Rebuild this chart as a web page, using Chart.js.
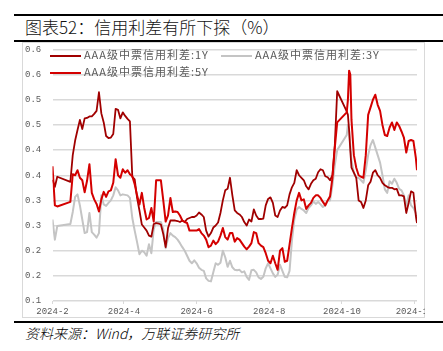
<!DOCTYPE html>
<html>
<head>
<meta charset="utf-8">
<script src="https://cdn.jsdelivr.net/npm/chart.js@4.4.1/dist/chart.umd.min.js"></script>
<style>
    html, body { margin: 0; padding: 0; background: #fff; }
    body { width: 443px; height: 351px; position: relative; overflow: hidden; font-family: "Noto Sans CJK SC", sans-serif; }
    .rule { position: absolute; left: 14px; right: 0; height: 2px; background: #000; }
    #title { position: absolute; left: 25px; top: 16px; font-size: 17px; line-height: 22px; font-weight: 300; color: #111; white-space: nowrap; }
    #frame { position: absolute; left: 22px; top: 42px; width: 403px; height: 276px; box-sizing: border-box; border: 1px solid #d9d9d9; }
    #chart { position: absolute; left: 22px; top: 42px; }
    #source { position: absolute; left: 25px; top: 324px; font-size: 14px; line-height: 18px; font-style: italic; font-weight: 300; color: #000; white-space: nowrap; }
    .lg { position: absolute; font-size: 11px; line-height: 14px; letter-spacing: 1px; color: #595959; white-space: nowrap; }
    .lg i { display: inline-block; width: 31px; height: 2px; vertical-align: middle; margin-right: 3px; }
</style>
</head>
<body>
<div class="rule" style="top:14px"></div>
<div id="title">图表52：信用利差有所下探（%）</div>
<div class="rule" style="top:40px"></div>
<div id="frame"></div>
<canvas id="chart" width="403" height="276"></canvas>
<div id="legend"></div>
<div class="rule" style="top:321px"></div>
<div id="source">资料来源：Wind，万联证券研究所</div>

<script>
// 2024 dates (MM-DD), values in %
const dates = [
    '02-01','02-03','02-05','02-16','02-18','02-20','02-22','02-24','02-26','02-28',
    '03-01','03-03','03-05','03-07','03-09','03-11','03-13','03-15','03-17','03-19',
    '03-21','03-23','03-25','03-27','03-29','03-31','04-02','04-04','04-06','04-08',
    '04-10','04-12','04-14','04-16','04-18','04-20','04-22','04-24','04-26','04-28',
    '04-30','05-02','05-04','05-06','05-08','05-10','05-12','05-14','05-16','05-18',
    '05-20','05-22','05-24','05-26','05-28','05-30','06-01','06-03','06-05','06-07',
    '06-09','06-11','06-13','06-15','06-17','06-19','06-21','06-23','06-25','06-27',
    '06-29','07-01','07-03','07-05','07-07','07-09','07-11','07-13','07-15','07-17',
    '07-19','07-21','07-23','07-25','07-27','07-29','07-31','08-02','08-04','08-06',
    '08-08','08-10','08-12','08-14','08-16','08-18','08-20','08-22','08-24','08-26',
    '08-28','08-30','09-01','09-03','09-05','09-07','09-09','09-11','09-13','09-15',
    '09-17','09-19','09-21','09-23','09-25','09-27','10-05','10-06','10-07','10-08',
    '10-09','10-11','10-13','10-15','10-17','10-19','10-21','10-23','10-25','10-27',
    '10-29','10-31','11-02','11-04','11-06','11-08','11-10','11-12','11-14','11-16',
    '11-18','11-20','11-22','11-24','11-26','11-28','11-30','12-02','12-03'
];

const spread1Y = [
    0.341,0.327,0.347,0.337,0.390,0.419,0.440,0.460,0.442,0.463,
    0.464,0.467,0.467,0.472,0.478,0.515,0.473,0.455,0.428,0.424,
    0.425,0.432,0.482,0.480,0.463,0.475,0.468,0.462,0.457,0.347,
    0.342,0.305,0.280,0.252,0.246,0.240,0.230,0.228,0.253,0.255,
    0.254,0.252,0.233,0.207,0.245,0.260,0.260,0.260,0.259,0.257,
    0.260,0.257,0.263,0.265,0.267,0.267,0.270,0.276,0.272,0.267,
    0.240,0.228,0.235,0.246,0.250,0.256,0.275,0.300,0.320,0.323,
    0.345,0.310,0.280,0.275,0.272,0.267,0.257,0.250,0.262,0.258,
    0.282,0.270,0.263,0.263,0.264,0.290,0.303,0.306,0.295,0.270,
    0.267,0.280,0.287,0.285,0.290,0.312,0.326,0.335,0.360,0.350,
    0.345,0.340,0.328,0.322,0.333,0.340,0.343,0.356,0.362,0.360,
    0.348,0.346,0.340,0.350,0.410,0.517,0.477,0.470,0.440,0.400,
    0.365,0.355,0.345,0.300,0.297,0.285,0.300,0.330,0.337,0.355,
    0.360,0.350,0.345,0.335,0.330,0.327,0.325,0.325,0.322,0.323,
    0.310,0.310,0.308,0.275,0.295,0.318,0.315,0.270,0.255
];

const spread3Y = [
    0.262,0.222,0.249,0.253,0.277,0.307,0.312,0.290,0.262,0.235,
    0.237,0.275,0.237,0.232,0.226,0.235,0.310,0.292,0.289,0.295,
    0.300,0.310,0.326,0.320,0.310,0.312,0.311,0.310,0.305,0.265,
    0.240,0.217,0.193,0.200,0.197,0.190,0.213,0.195,0.243,0.257,
    0.257,0.257,0.243,0.205,0.225,0.235,0.230,0.227,0.222,0.215,
    0.207,0.200,0.190,0.180,0.175,0.181,0.175,0.166,0.162,0.160,
    0.145,0.140,0.139,0.157,0.175,0.172,0.176,0.200,0.187,0.168,
    0.180,0.167,0.162,0.161,0.162,0.157,0.159,0.148,0.142,0.161,
    0.162,0.157,0.147,0.144,0.148,0.165,0.175,0.165,0.155,0.148,
    0.152,0.172,0.160,0.148,0.147,0.160,0.220,0.262,0.282,0.287,
    0.283,0.280,0.275,0.285,0.290,0.298,0.293,0.297,0.292,0.287,
    0.290,0.300,0.300,0.330,0.370,0.400,0.430,0.450,0.440,0.410,
    0.380,0.355,0.345,0.345,0.340,0.335,0.360,0.390,0.410,0.420,
    0.405,0.390,0.375,0.350,0.322,0.315,0.338,0.333,0.343,0.335,
    0.323,0.320,0.310,0.290,0.310,0.290,0.285,0.275,0.256
];

const spread5Y = [
    0.368,0.290,0.288,0.297,0.352,0.350,0.360,0.345,0.340,0.316,
    0.339,0.372,0.315,0.302,0.293,0.278,0.302,0.317,0.307,0.318,
    0.320,0.335,0.382,0.350,0.345,0.362,0.355,0.360,0.352,0.348,
    0.332,0.310,0.292,0.315,0.285,0.262,0.265,0.285,0.258,0.340,
    0.340,0.340,0.300,0.258,0.270,0.305,0.277,0.278,0.277,0.270,
    0.260,0.257,0.255,0.240,0.240,0.240,0.240,0.243,0.235,0.230,
    0.222,0.207,0.210,0.220,0.213,0.218,0.230,0.245,0.227,0.222,
    0.235,0.235,0.218,0.225,0.222,0.215,0.208,0.203,0.208,0.215,
    0.237,0.235,0.215,0.210,0.207,0.195,0.180,0.175,0.190,0.175,
    0.162,0.200,0.205,0.178,0.180,0.212,0.245,0.275,0.300,0.315,
    0.300,0.302,0.283,0.290,0.295,0.305,0.310,0.310,0.305,0.297,
    0.290,0.300,0.308,0.345,0.405,0.455,0.475,0.500,0.558,0.550,
    0.460,0.390,0.365,0.350,0.347,0.345,0.390,0.470,0.485,0.500,
    0.510,0.490,0.478,0.450,0.430,0.428,0.445,0.455,0.440,0.455,
    0.448,0.437,0.425,0.395,0.418,0.420,0.418,0.385,0.360
];

const seriesNames = ['AAA级中票信用利差:1Y', 'AAA级中票信用利差:3Y', 'AAA级中票信用利差:5Y'];
const seriesColors = ['#a00000', '#c4c4c4', '#d40000'];

const xTickDates = ['02-01', '04-01', '06-01', '08-01', '10-01', '12-01'];
const xTickLabels = ['2024-2', '2024-4', '2024-6', '2024-8', '2024-10', '2024-12'];
const yTickValues = [0.1, 0.15, 0.2, 0.25, 0.3, 0.35, 0.4, 0.45, 0.5, 0.55, 0.6];
const yTickLabels = ['0.1', '0.2', '0.2', '0.3', '0.3', '0.4', '0.4', '0.5', '0.5', '0.6', '0.6'];

function dayOfYear(md) {
    const [m, d] = md.split('-').map(Number);
    return (Date.UTC(2024, m - 1, d) - Date.UTC(2024, 0, 1)) / 86400000 + 1;
}

const xs = dates.map(dayOfYear);
const xTickDays = xTickDates.map(dayOfYear);
const toPoints = vals => vals.map((v, i) => ({ x: xs[i], y: v }));

const tickFont = { family: '"Liberation Mono", "DejaVu Sans Mono", monospace', size: 9 };

const chart = new Chart(document.getElementById('chart'), {
    type: 'line',
    data: {
        datasets: [
            { label: seriesNames[0], data: toPoints(spread1Y), borderColor: seriesColors[0], borderWidth: 1.8, order: 2 },
            { label: seriesNames[1], data: toPoints(spread3Y), borderColor: seriesColors[1], borderWidth: 2, order: 3 },
            { label: seriesNames[2], data: toPoints(spread5Y), borderColor: seriesColors[2], borderWidth: 2, order: 1 }
        ]
    },
    options: {
        responsive: false,
        animation: false,
        devicePixelRatio: 1,
        layout: { padding: { left: 3, right: 8, top: 7.5, bottom: 0 } },
        plugins: { legend: { display: false }, tooltip: { enabled: false } },
        elements: {
            point: { radius: 0 },
            line: { tension: 0, borderJoinStyle: 'round', fill: false }
        },
        scales: {
            x: {
                type: 'linear',
                min: 32,
                max: 338,
                afterBuildTicks: s => { s.ticks = xTickDays.map(v => ({ value: v })); },
                afterFit: s => { s.height = 17; s.paddingLeft = 0; s.paddingRight = 0; },
                grid: { drawOnChartArea: false, drawTicks: true, tickLength: 3, color: '#d9d9d9', lineWidth: 1 },
                border: { display: false },
                ticks: {
                    autoSkip: false,
                    maxRotation: 0,
                    padding: 2,
                    color: '#595959',
                    font: tickFont,
                    callback: v => xTickLabels[xTickDays.indexOf(v)]
                }
            },
            y: {
                min: 0.1,
                max: 0.6,
                afterBuildTicks: s => { s.ticks = yTickValues.map(v => ({ value: v })); },
                afterFit: s => { s.width = 27.5; s.paddingTop = 0; s.paddingBottom = 0; },
                grid: { color: '#d9d9d9', lineWidth: 1.5, drawTicks: false },
                border: { display: false },
                ticks: {
                    crossAlign: 'far',
                    color: '#595959',
                    font: tickFont,
                    callback: (v, i) => yTickLabels[i]
                }
            }
        }
    }
});

// legend as html, placed over the plot like the original
const legendSpots = [[50, 47], [221, 47], [50, 64]];
const legendBox = document.getElementById('legend');
chart.data.datasets.forEach((ds, i) => {
    const el = document.createElement('div');
    el.className = 'lg';
    el.style.left = legendSpots[i][0] + 'px';
    el.style.top = legendSpots[i][1] + 'px';
    el.innerHTML = `<i style="background:${ds.borderColor}"></i>${ds.label}`;
    legendBox.appendChild(el);
});
</script>
</body>
</html>
